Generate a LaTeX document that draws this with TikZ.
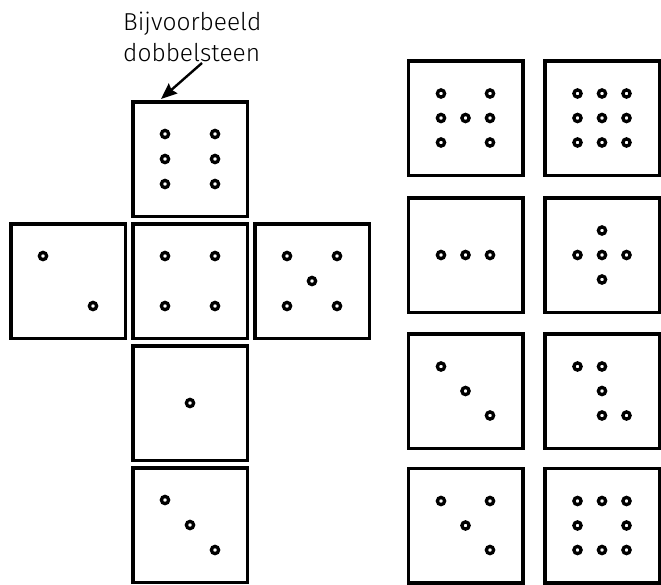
\documentclass[tikz,border=0pt]{standalone}
\usepackage{fontspec}
\setmainfont{Fira Sans}[UprightFont=* Light]
\usetikzlibrary{arrows.meta}

\begin{document}
\begin{tikzpicture}[x=1pt, y=-1pt,
 die/.style={shape=rectangle, draw, line width=3.5pt, minimum size=114.5pt, inner sep=0pt, node contents=},
 pip/.style={shape=circle, draw, fill=white, line width=3.3pt, minimum size=7.2pt, inner sep=0pt, node contents=},
]
\useasboundingbox (0,0) rectangle (661,584);

%label
\node[anchor=north west, align=left, inner sep=0pt, font=\fontsize{24.5}{31}\selectfont] (label) at (123,12) {Bijvoorbeeld\\dobbelsteen};
\coordinate (arrow start) at (202,63);
\coordinate (arrow end) at (161,99);
\draw[line width=2.4pt, -{Stealth[length=16pt, width=13pt, inset=2pt]}] (arrow start) -- (arrow end);

%net
\draw
node (six) at (190,159) [die]
node (six a) at (165,134) [pip]
node (six b) at (215,134) [pip]
node (six c) at (165,159) [pip]
node (six d) at (215,159) [pip]
node (six e) at (165,184) [pip]
node (six f) at (215,184) [pip];

\draw
node (two) at (68,281) [die]
node (two a) at (43,256) [pip]
node (two b) at (93,306) [pip];

\draw
node (four) at (190,281) [die]
node (four a) at (165,256) [pip]
node (four b) at (215,256) [pip]
node (four c) at (165,306) [pip]
node (four d) at (215,306) [pip];

\draw
node (five) at (312,281) [die]
node (five a) at (287,256) [pip]
node (five b) at (337,256) [pip]
node (five c) at (312,281) [pip]
node (five d) at (287,306) [pip]
node (five e) at (337,306) [pip];

\draw
node (one) at (190,403) [die]
node (one a) at (190,403) [pip];

\draw
node (three) at (190,525) [die]
node (three a) at (165,500) [pip]
node (three b) at (190,525) [pip]
node (three c) at (215,550) [pip];

%other dice
\draw
node (seven) at (465.5,118) [die]
node (seven a) at (441,93.5) [pip]
node (seven b) at (490,93.5) [pip]
node (seven c) at (441,118) [pip]
node (seven d) at (465.5,118) [pip]
node (seven e) at (490,118) [pip]
node (seven f) at (441,142.5) [pip]
node (seven g) at (490,142.5) [pip];

\draw
node (nine) at (602,118) [die]
node (nine a) at (577.5,93.5) [pip]
node (nine b) at (602,93.5) [pip]
node (nine c) at (626.5,93.5) [pip]
node (nine d) at (577.5,118) [pip]
node (nine e) at (602,118) [pip]
node (nine f) at (626.5,118) [pip]
node (nine g) at (577.5,142.5) [pip]
node (nine h) at (602,142.5) [pip]
node (nine i) at (626.5,142.5) [pip];

\draw
node (row) at (465.5,255) [die]
node (row a) at (441,255) [pip]
node (row b) at (465.5,255) [pip]
node (row c) at (490,255) [pip];

\draw
node (plus) at (602,255) [die]
node (plus a) at (602,230.5) [pip]
node (plus b) at (577.5,255) [pip]
node (plus c) at (602,255) [pip]
node (plus d) at (626.5,255) [pip]
node (plus e) at (602,279.5) [pip];

\draw
node (diag) at (465.5,391) [die]
node (diag a) at (441,366.5) [pip]
node (diag b) at (465.5,391) [pip]
node (diag c) at (490,415.5) [pip];

\draw
node (zig) at (602,391) [die]
node (zig a) at (577.5,366.5) [pip]
node (zig b) at (602,366.5) [pip]
node (zig c) at (602,391) [pip]
node (zig d) at (602,415.5) [pip]
node (zig e) at (626.5,415.5) [pip];

\draw
node (kite) at (465.5,525.5) [die]
node (kite a) at (441,501) [pip]
node (kite b) at (490,501) [pip]
node (kite c) at (465.5,525.5) [pip]
node (kite d) at (490,550) [pip];

\draw
node (ring) at (602,525.5) [die]
node (ring a) at (577.5,501) [pip]
node (ring b) at (602,501) [pip]
node (ring c) at (626.5,501) [pip]
node (ring d) at (577.5,525.5) [pip]
node (ring e) at (626.5,525.5) [pip]
node (ring f) at (577.5,550) [pip]
node (ring g) at (602,550) [pip]
node (ring h) at (626.5,550) [pip];

\end{tikzpicture}
\end{document}
